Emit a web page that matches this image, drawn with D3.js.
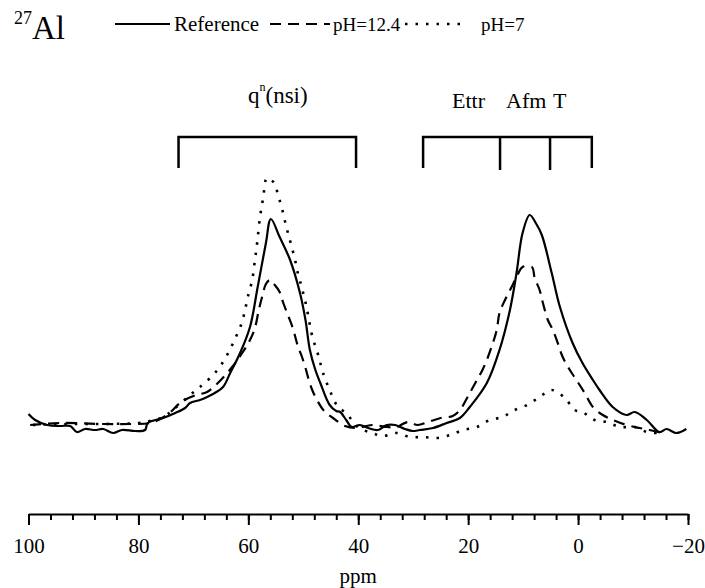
<!DOCTYPE html>
<html>
<head>
<meta charset="utf-8">
<script src="https://cdn.jsdelivr.net/npm/d3@7"></script>
<style>
  body { margin: 0; background: #fff; }
  svg text { font-family: "Liberation Serif", "Times New Roman", serif; fill: #000; }
</style>
</head>
<body>
<div id="nmr_chart"></div>
<script>
// chemical shift (ppm), intensity (a.u.)
const referenceSpectrum = [
    [100,16],[98.8,10],[96.6,5],[94.3,4],[92.4,4],[91.2,-2],[89.7,1],[87.9,0],[86.4,1],[84.6,-3],
    [83.0,0],[80.6,-1],[78.8,0],[78.3,7],[75.5,12],[73.3,17],[71.5,22],[70.6,27],[68.8,30],[67.5,33],
    [66.1,37],[64.6,43],[63.3,57],[61.5,77],[59.7,103],[58.3,143],[56.8,187],[55.9,211],[54.3,193],[52.4,170],
    [50.6,137],[49.6,110],[48.8,80],[47.8,60],[46.9,47],[45.2,25],[44.0,19],[43.3,18],[42.2,10],[41.2,3],
    [39.7,5],[38.2,2],[36.4,0],[34.8,5],[33.3,5],[31.5,1],[30.1,-1],[28.8,0],[26.4,2],[23.9,7],
    [21.5,12],[19.7,23],[16.6,47],[14.3,80],[12.4,120],[11.2,157],[10.1,197],[8.8,215],[7.7,207],[6.6,195],
    [4.8,157],[3.3,123],[1.0,87],[-0.8,67],[-2.7,50],[-3.9,40],[-6.3,23],[-8.8,15],[-10.3,18],[-12.5,10],
    [-14.8,-2],[-16.1,1],[-17.9,-3],[-19.7,1]
];
const ph124Spectrum = [
    [99.7,5],[94.3,7],[86.4,6],[81.5,6],[77.9,7],[74.8,15],[72.2,28],[69.5,35],[67.5,38],[65.0,50],
    [62.8,64],[61.0,78],[59.7,90],[58.8,102],[58.1,120],[57.5,133],[56.8,146],[56.1,150],[55.5,147],[54.3,138],
    [53.7,128],[52.8,115],[52.1,105],[51.5,94],[51.0,84],[50.3,74],[49.6,62],[49.0,50],[48.3,39],[47.3,28],
    [46.2,19],[44.6,12],[42.4,4],[40.3,2],[37.5,5],[34.8,3],[33.0,3],[31.0,8],[29.2,5],[27.3,8],
    [25.0,12],[22.8,14],[21.5,20],[20.4,30],[19.4,40],[18.4,50],[17.4,60],[16.4,73],[15.5,87],[14.8,100],
    [14.3,117],[13.3,130],[12.1,143],[11.2,153],[10.1,163],[8.4,163],[7.9,152],[7.0,140],[6.4,127],[5.5,110],
    [4.6,100],[3.7,87],[2.8,73],[1.5,60],[0.3,50],[-1.2,37],[-2.7,23],[-4.5,15],[-6.3,10],[-8.8,5],
    [-11.2,2],[-13.0,0],[-15.4,-3]
];
const ph7Spectrum = [
    [99.2,5],[94.3,6],[87.0,6],[80.1,7],[77.9,9],[75.5,13],[73.7,20],[70.6,35],[68.8,43],[66.4,55],
    [64.6,68],[63.3,81],[62.1,95],[61.2,107],[60.6,120],[60.1,133],[59.3,150],[58.8,170],[58.4,187],[57.9,212],
    [57.3,232],[56.6,252],[55.3,247],[54.6,235],[53.9,222],[53.3,208],[52.8,197],[52.1,183],[51.5,170],[51.0,157],
    [50.3,143],[49.7,130],[49.2,117],[48.3,92],[47.5,79],[46.9,67],[46.4,57],[45.2,40],[43.9,25],[41.9,15],
    [40.1,3],[37.5,-3],[35.5,-6],[33.0,-3],[30.6,-7],[28.3,-7],[25.7,-8],[23.3,-5],[20.9,0],[18.4,3],
    [16.1,10],[13.7,13],[11.9,19],[9.3,25],[7.0,33],[4.8,40],[2.4,32],[0.6,20],[-0.8,18],[-3.0,10],
    [-5.2,8],[-7.6,3],[-10.3,3],[-12.5,-2],[-14.8,-3]
];

const seriesNames = ["Reference", "pH=12.4", "pH=7"];

// assignment brackets (ppm)
const qnRange = [72.7, 40.4];
const phaseBounds = [28.2, 14.2, 5.1, -2.5];
const phaseLabels = ["Ettr", "Afm", "T"];

const majorTicks = [100, 80, 60, 40, 20, 0, -20];
const minorTicks = d3.range(100, -21, -4);

function drawSpectrum(parentElement) {

    const width = 705, height = 588;

    const svg = d3.select("#" + parentElement)
        .append("svg")
        .attr("width", width)
        .attr("height", height);

    const x = d3.scaleLinear()
        .domain([100, -20])
        .range([28.5, 688]);

    const y = d3.scaleLinear()
        .domain([0, 255])
        .range([430, 175]);

    const line = d3.line()
        .x(d => x(d[0]))
        .y(d => y(d[1]))
        .curve(d3.curveCatmullRom.alpha(0.5));

    const styles = [
        { dash: null, width: 2.2 },
        { dash: "11,7", width: 2.2 },
        { dash: "2.5,8", width: 2.6 }
    ];

    [referenceSpectrum, ph124Spectrum, ph7Spectrum].forEach((s, i) => {
        svg.append("path")
            .datum(s)
            .attr("fill", "none")
            .attr("stroke", "#000")
            .attr("stroke-width", styles[i].width)
            .attr("stroke-dasharray", styles[i].dash)
            .attr("d", line);
    });

    // x axis
    const axisY = 514;
    const minorAxis = d3.axisBottom(x)
        .tickValues(minorTicks)
        .tickSize(6)
        .tickSizeOuter(0)
        .tickFormat("");
    svg.append("g")
        .attr("transform", `translate(0,${axisY})`)
        .call(minorAxis)
        .call(g => g.selectAll("line, path").attr("stroke", "#000").attr("stroke-width", 2));

    const majorAxis = d3.axisBottom(x)
        .tickValues(majorTicks)
        .tickSize(11)
        .tickSizeOuter(0)
        .tickPadding(13)
        .tickFormat(d3.format("d"));
    svg.append("g")
        .attr("transform", `translate(0,${axisY})`)
        .call(majorAxis)
        .call(g => g.select(".domain").remove())
        .call(g => g.selectAll("line").attr("stroke", "#000").attr("stroke-width", 2))
        .call(g => g.selectAll("text")
            .style("font-family", "'Liberation Serif', 'Times New Roman', serif")
            .style("font-size", "21px")
            .attr("fill", "#000"));

    svg.append("text")
        .attr("x", (x(100) + x(-20)) / 2)
        .attr("y", 583)
        .attr("text-anchor", "middle")
        .style("font-size", "21px")
        .text("ppm");

    // brackets
    const bTop = 137, bBot = 168;
    const bracket = svg.append("g")
        .attr("fill", "none")
        .attr("stroke", "#000")
        .attr("stroke-width", 2.5);

    bracket.append("path")
        .attr("d", `M${x(qnRange[0])},${bBot}V${bTop}H${x(qnRange[1])}V${bBot}`);

    bracket.append("path")
        .attr("d", `M${x(phaseBounds[0])},${bBot}V${bTop}H${x(phaseBounds[3])}V${bBot}`);
    phaseBounds.slice(1, 3).forEach(p => {
        bracket.append("line")
            .attr("x1", x(p)).attr("x2", x(p))
            .attr("y1", bTop).attr("y2", bBot + 2);
    });

    const qLabel = svg.append("text")
        .attr("x", 248)
        .attr("y", 103)
        .style("font-size", "23px");
    qLabel.append("tspan").text("q");
    qLabel.append("tspan").attr("dy", -12).style("font-size", "12px").text("n");
    qLabel.append("tspan").attr("dy", 12).text("(nsi)");

    const phaseX = [452, 506, 553];
    phaseLabels.forEach((t, i) => {
        svg.append("text")
            .attr("x", phaseX[i])
            .attr("y", 108)
            .style("font-size", "22px")
            .text(t);
    });

    // title and legend
    const title = svg.append("text")
        .attr("x", 14)
        .attr("y", 39);
    title.append("tspan").attr("dy", -15).style("font-size", "18px").text("27");
    title.append("tspan").attr("dy", 15).style("font-size", "33px").text("Al");

    const legendItems = [
        { x1: 115, x2: 170, tx: 174, s: 0, fs: 21 },
        { x1: 270, x2: 330, tx: 333, s: 1, fs: 19 },
        { x1: 405, x2: 468, tx: 481, s: 2, fs: 19 }
    ];
    legendItems.forEach(d => {
        svg.append("line")
            .attr("x1", d.x1).attr("x2", d.x2)
            .attr("y1", 24).attr("y2", 24)
            .attr("stroke", "#000")
            .attr("stroke-width", styles[d.s].width)
            .attr("stroke-dasharray", styles[d.s].dash);
        svg.append("text")
            .attr("x", d.tx)
            .attr("y", 31)
            .style("font-size", d.fs + "px")
            .text(seriesNames[d.s]);
    });
}

drawSpectrum("nmr_chart");
</script>
</body>
</html>
